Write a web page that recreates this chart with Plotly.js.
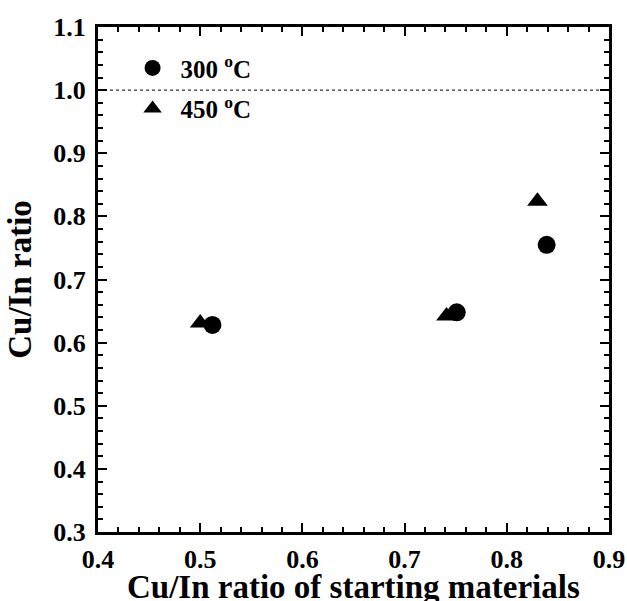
<!DOCTYPE html>
<html><head><meta charset="utf-8">
<script src="https://cdn.plot.ly/plotly-3.0.1.min.js"></script>
<style>body{margin:0;background:#fff}</style>
</head><body>
<div id="chart" style="width:627px;height:601px"></div>
<script>
const seriesNames = ["300 <sup>o</sup>C", "450 <sup>o</sup>C"];
const x300 = [0.512, 0.751, 0.839];
const y300 = [0.628, 0.648, 0.755];
const x450 = [0.500, 0.741, 0.830];
const y450 = [0.631, 0.642, 0.824];
const refLine = 1.0;
const xTitle = "Cu/In ratio of starting materials";
const yTitle = "Cu/In ratio";

const fontFam = "Liberation Serif";
const traces = [
  {x: x300, y: y300, name: seriesNames[0], legendgroup: 'a', type: 'scatter', mode: 'markers',
   marker: {symbol: 'circle', size: 18, color: 'black'}},
  {x: x450, y: y450, name: seriesNames[1], legendgroup: 'b', type: 'scatter', mode: 'markers',
   marker: {symbol: 'triangle-up', size: 18, color: 'black'}}
];
const axisCommon = {
  showgrid: false, zeroline: false, showline: true, linecolor: 'black', linewidth: 3,
  mirror: 'ticks', ticks: 'inside', ticklen: 9, tickwidth: 2, tickcolor: 'black',
  tickformat: '.1f', dtick: 0.1,
  tickfont: {family: fontFam, size: 26, color: 'black', weight: 'bold'},
  minor: {ticks: 'inside', ticklen: 5, tickwidth: 2, tickcolor: 'black', dtick: 0.02, showgrid: false}
};
const layout = {
  width: 627, height: 601,
  margin: {l: 98, r: 18, t: 27, b: 69},
  paper_bgcolor: 'white', plot_bgcolor: 'white',
  showlegend: true,
  legend: {x: 0.052, y: 0.964, xanchor: 'left', yanchor: 'top', bgcolor: 'rgba(0,0,0,0)',
    font: {family: fontFam, size: 25, color: 'black', weight: 'bold'}, tracegroupgap: 5,
    itemwidth: 46},
  xaxis: Object.assign({}, axisCommon, {range: [0.4, 0.9], tick0: 0.4, ticklabelstandoff: 2}),
  yaxis: Object.assign({}, axisCommon, {range: [0.3, 1.1], tick0: 0.3, ticklabelstandoff: 4,
    title: {text: yTitle, standoff: 12, font: {family: fontFam, size: 33, color: 'black', weight: 'bold'}}}),
  annotations: [{text: xTitle, xref: 'paper', yref: 'paper', x: 0.5, y: 0, xanchor: 'center', yanchor: 'middle',
    yshift: -55, showarrow: false, font: {family: fontFam, size: 33, color: 'black', weight: 'bold'}}],
  shapes: [{type: 'line', xref: 'paper', x0: 0, x1: 1, yref: 'y', y0: refLine, y1: refLine,
    line: {color: 'black', width: 1, dash: 'dot'}}]
};
Plotly.newPlot('chart', traces, layout, {displayModeBar: false, staticPlot: true});
</script>
</body></html>
